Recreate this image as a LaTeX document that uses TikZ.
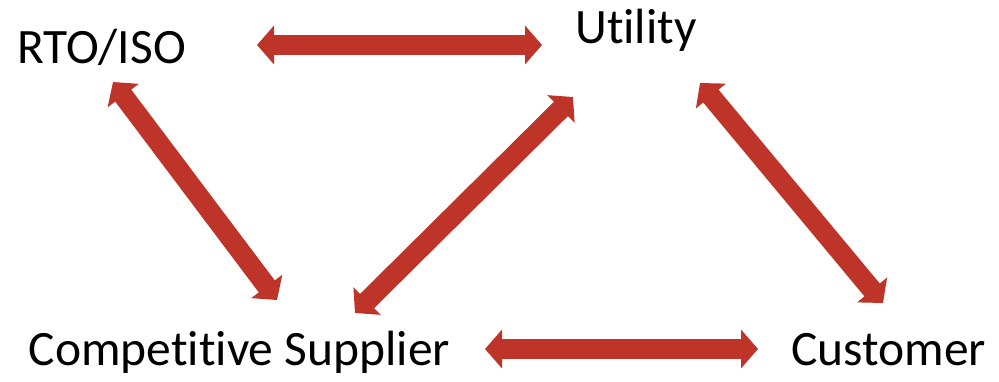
\documentclass[tikz,border=0pt]{standalone}
\usepackage{fontspec}
\setmainfont[Ligatures={NoCommon}]{Carlito}
\usetikzlibrary{arrows.meta}
\definecolor{linkred}{RGB}{190,52,40}
\tikzset{
  party/.style={anchor=base, inner sep=0pt, font=\fontsize{49.5}{58}\selectfont, text=black},
  link/.style={draw=linkred, line width=20pt,
    {Triangle[width=38pt,length=17pt]}-{Triangle[width=38pt,length=17pt]}}
}
\begin{document}
\begin{tikzpicture}[x=1pt,y=-1pt]
  \useasboundingbox (0,0) rectangle (999,381);
  % parties
  \node[party] (rto)  at (101.5,63) {RTO/ISO};
  \node[party] (util) at (636,43)   {Utility};
  \node[party] (comp) at (239.5,365) {Competitive Supplier};
  \node[party] (cust) at (888.5,365) {Customer};
  % arrow end points
  \coordinate (rtoE)   at (257,45);
  \coordinate (utilW)  at (542,45);
  \coordinate (rtoS)   at (113,82);
  \coordinate (compNW) at (277,300);
  \coordinate (utilSW) at (573,97);
  \coordinate (compNE) at (355,313);
  \coordinate (utilSE) at (700,83);
  \coordinate (custN)  at (883,303);
  \coordinate (compE)  at (485,349);
  \coordinate (custW)  at (758,349);
  % relations
  \draw[link] (rtoE) -- (utilW);
  \draw[link] (rtoS) -- (compNW);
  \draw[link] (utilSW) -- (compNE);
  \draw[link] (utilSE) -- (custN);
  \draw[link] (compE) -- (custW);
\end{tikzpicture}
\end{document}
